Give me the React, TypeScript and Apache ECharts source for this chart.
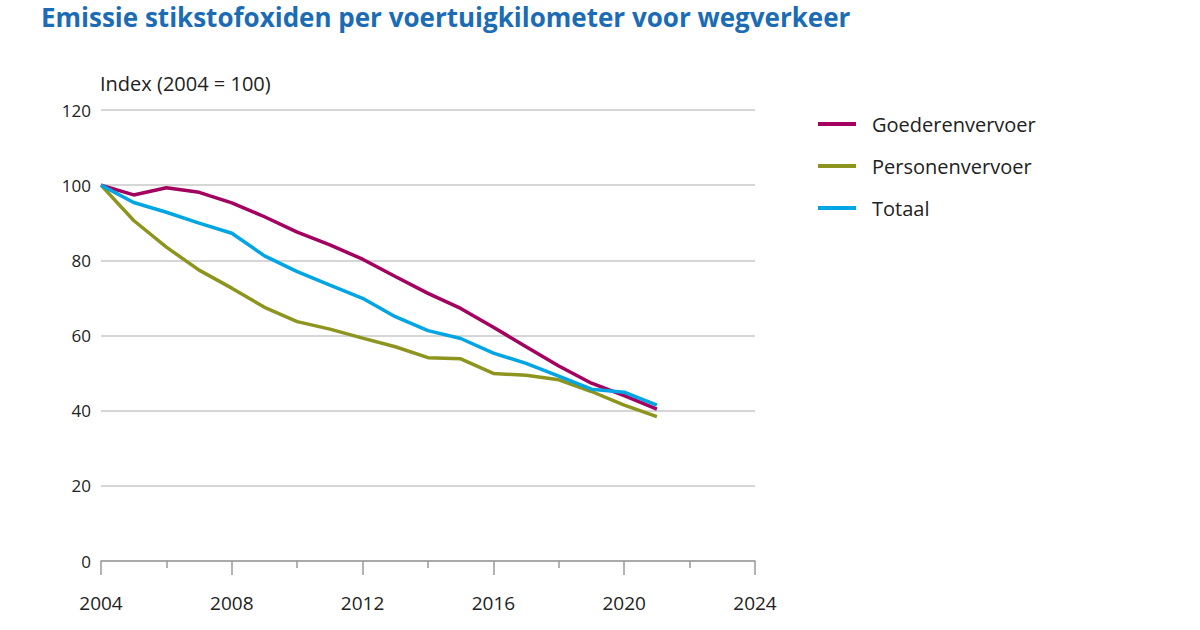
import React, { useEffect, useRef } from "react";
import * as echarts from "echarts";

const years = [2004, 2005, 2006, 2007, 2008, 2009, 2010, 2011, 2012, 2013, 2014, 2015, 2016, 2017, 2018, 2019, 2020, 2021];
const goederenvervoer = [100, 97.4, 99.3, 98.1, 95.3, 91.6, 87.5, 84.1, 80.3, 75.7, 71.2, 67.2, 62.2, 57.0, 51.9, 47.3, 44.0, 40.4];
const personenvervoer = [100, 90.6, 83.5, 77.4, 72.6, 67.5, 63.7, 61.7, 59.3, 57.0, 54.1, 53.8, 49.9, 49.4, 48.2, 45.1, 41.5, 38.4];
const totaal = [100, 95.4, 92.8, 89.9, 87.2, 81.2, 77.0, 73.4, 69.9, 65.0, 61.3, 59.2, 55.3, 52.6, 49.2, 45.7, 44.9, 41.5];

const seriesNames = ["Goederenvervoer", "Personenvervoer", "Totaal"];
const seriesColors = ["#a3005f", "#8d951f", "#00a5e3"];

const FONT = "'Open Sans', 'Noto Sans', sans-serif";

export default function App() {
  const ref = useRef<HTMLDivElement>(null);

  useEffect(() => {
    if (!ref.current) return;
    const chart = echarts.init(ref.current, undefined, { renderer: "svg" });
    const seriesData = [goederenvervoer, personenvervoer, totaal];
    chart.setOption({
      animation: false,
      backgroundColor: "#ffffff",
      title: {
        text: "Emissie stikstofoxiden per voertuigkilometer voor wegverkeer",
        left: 36,
        top: -1,
        textStyle: {
          color: "#1b6cb5",
          fontFamily: FONT,
          fontWeight: "bold",
          fontSize: 26,
        },
      },
      legend: {
        orient: "vertical",
        left: 813,
        top: 109,
        itemWidth: 38,
        itemHeight: 4,
        itemGap: 22,
        icon: "rect",
        data: seriesNames,
        textStyle: { fontFamily: FONT, fontSize: 20, color: "#222", padding: [0, 0, 0, 11] },
      },
      grid: { left: 101, right: 445, top: 110, bottom: 69, containLabel: false },
      xAxis: {
        type: "value",
        min: 2004,
        max: 2024,
        interval: 4,
        axisLine: { show: true, lineStyle: { color: "#9a9a9a", width: 1.5 } },
        axisTick: { show: true, length: 14, lineStyle: { color: "#9a9a9a", width: 1.5 } },
        minorTick: { show: true, splitNumber: 2, length: 7, lineStyle: { color: "#9a9a9a", width: 1.5 } },
        splitLine: { show: false },
        axisLabel: {
          margin: 32,
          fontFamily: FONT,
          fontSize: 19,
          color: "#222",
          formatter: (v: number) => String(v),
        },
      },
      yAxis: {
        type: "value",
        min: 0,
        max: 120,
        interval: 20,
        name: "Index (2004 = 100)",
        nameLocation: "end",
        nameGap: 17,
        nameTextStyle: { fontFamily: FONT, fontSize: 20, color: "#222", align: "left", padding: [0, 0, 0, -1] },
        axisLine: { show: false },
        axisTick: { show: false },
        splitLine: { show: true, lineStyle: { color: "#c8c8c8", width: 1.5 } },
        axisLabel: { margin: 10, fontFamily: FONT, fontSize: 17, color: "#222" },
      },
      series: seriesNames.map((name, i) => ({
        name,
        type: "line",
        data: years.map((y, j) => [y, seriesData[i][j]]),
        showSymbol: false,
        symbol: "none",
        z: 3,
        lineStyle: { color: seriesColors[i], width: 3.5 },
        itemStyle: { color: seriesColors[i] },
      })),
    });
    return () => chart.dispose();
  }, []);

  return <div ref={ref} style={{ width: 1200, height: 630, position: "absolute", left: 0, top: 0 }} />;
}
